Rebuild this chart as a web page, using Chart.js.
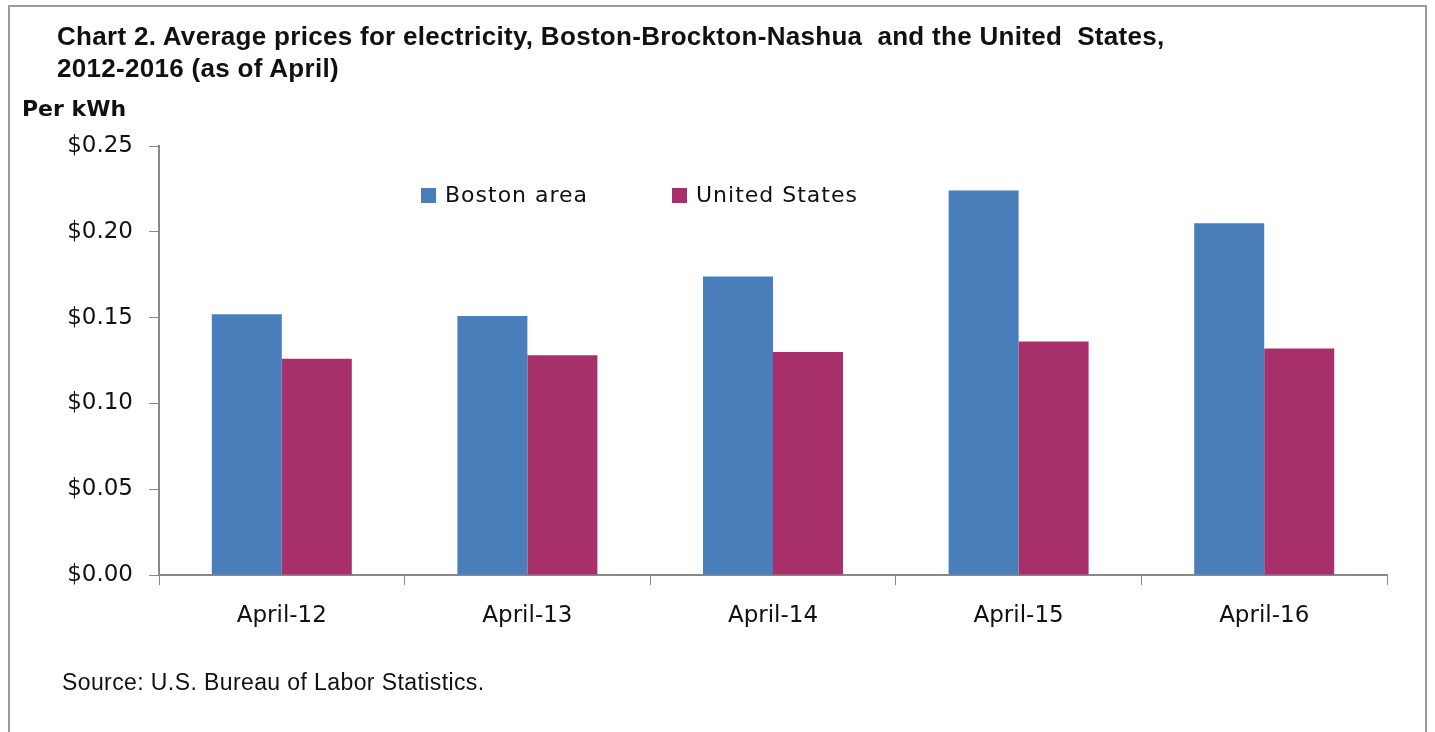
<!DOCTYPE html>
<html>
<head>
<meta charset="utf-8">
<script src="https://cdn.jsdelivr.net/npm/chart.js@4"></script>
<style>
  html, body { margin: 0; padding: 0; background: #fff; }
  body { width: 1435px; height: 732px; position: relative; overflow: hidden; }
  #frame { position: absolute; left: 8px; top: 5px; width: 1419px; height: 740px;
           border: 2px solid #9a9a9a; box-sizing: border-box; }
  #chart { position: absolute; left: 0; top: 0; }
  .title { position: absolute; left: 57px; top: 20px; font-family: "Liberation Sans Narrow", "Arial Narrow", sans-serif;
           font-weight: bold; font-size: 26px; line-height: 32px; letter-spacing: 0.3px; color: #111; white-space: pre; }
  .unit { position: absolute; left: 22px; top: 96px; font-family: "DejaVu Sans", sans-serif;
          font-weight: bold; font-size: 22px; color: #111; }
  .source { position: absolute; left: 62px; top: 669px; font-family: "Liberation Sans Narrow", "Arial Narrow", sans-serif;
            font-size: 23px; letter-spacing: 0.4px; color: #111; }
</style>
</head>
<body>
<div id="frame"></div>
<canvas id="chart" width="1435" height="732"></canvas>
<div class="title">Chart 2. Average prices for electricity, Boston-Brockton-Nashua  and the United  States,
2012-2016 (as of April)</div>
<div class="unit">Per kWh</div>
<div class="source">Source: U.S. Bureau of Labor Statistics.</div>
<script>
// Data
const categories = ['April-12', 'April-13', 'April-14', 'April-15', 'April-16'];
const bostonArea = [0.152, 0.151, 0.174, 0.224, 0.205];
const unitedStates = [0.126, 0.128, 0.130, 0.136, 0.132];
const seriesNames = ['Boston area', 'United States'];
const seriesColors = ['#4a7ebb', '#a8306a'];

// legend drawn inside the plot area, like the original
const innerLegend = {
  id: 'innerLegend',
  afterDraw(chart) {
    const ctx = chart.ctx;
    const y = chart.chartArea.top + 50;
    const xs = [421, 672];
    ctx.save();
    ctx.font = '22px "DejaVu Sans", sans-serif';
    ctx.letterSpacing = '1px';
    ctx.textBaseline = 'middle';
    chart.data.datasets.forEach((ds, i) => {
      ctx.fillStyle = ds.backgroundColor;
      ctx.fillRect(xs[i], y - 8, 15, 15);
      ctx.fillStyle = '#111';
      ctx.fillText(ds.label, xs[i] + 24, y);
    });
    ctx.restore();
  }
};

const ctx = document.getElementById('chart').getContext('2d');
new Chart(ctx, {
  type: 'bar',
  data: {
    labels: categories,
    datasets: [
      { label: seriesNames[0], data: bostonArea, backgroundColor: seriesColors[0] },
      { label: seriesNames[1], data: unitedStates, backgroundColor: seriesColors[1] }
    ]
  },
  options: {
    responsive: false,
    animation: false,
    layout: { padding: { left: 0, top: 146, right: 48, bottom: 97 } },
    datasets: { bar: { barPercentage: 1, categoryPercentage: 0.57 } },
    plugins: { legend: { display: false }, tooltip: { enabled: false } },
    scales: {
      x: {
        afterFit: s => { s.height = 60; },
        grid: { drawOnChartArea: false, drawTicks: true, tickLength: 10, color: '#888' },
        border: { display: true, color: '#888', width: 2 },
        ticks: { color: '#111', padding: 17, font: { family: '"DejaVu Sans", sans-serif', size: 23 } }
      },
      y: {
        min: 0,
        max: 0.25,
        afterFit: s => { s.width = 159; },
        grid: { drawOnChartArea: false, drawTicks: true, tickLength: 10, color: '#888' },
        border: { display: true, color: '#888', width: 2 },
        ticks: {
          stepSize: 0.05,
          color: '#111',
          padding: 16,
          font: { family: '"DejaVu Sans", sans-serif', size: 23 },
          callback: v => '$' + v.toFixed(2)
        }
      }
    }
  },
  plugins: [innerLegend]
});
</script>
</body>
</html>
